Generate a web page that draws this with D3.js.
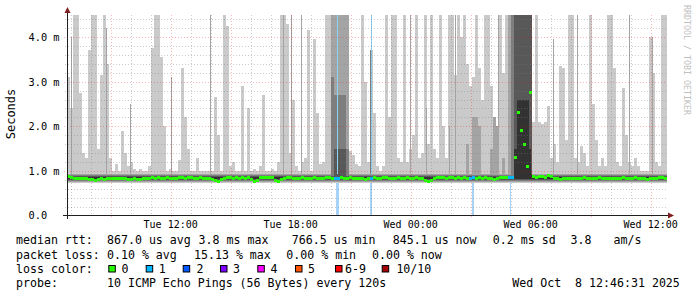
<!DOCTYPE html>
<html><head><meta charset="utf-8">
<script src="https://cdn.jsdelivr.net/npm/d3@7"></script>
<style>body{margin:0;background:#fff}svg{display:block}text{font-family:'DejaVu Sans Mono',monospace;white-space:pre}</style>
</head><body><svg id="c" width="697" height="297"></svg>
<script>
// ---------- data ----------
const startTime = new Date(2025, 9, 7, 6, 49);
const endTime = new Date(2025, 9, 8, 12, 49);
const stepMinutes = 9;
const yMax = 4.5;
const yTickValues = [0, 1, 2, 3, 4];
const yTickLabels = ["0.0", "1.0 m", "2.0 m", "3.0 m", "4.0 m"];
const xTickTimes = [new Date(2025,9,7,12,0), new Date(2025,9,7,18,0), new Date(2025,9,8,0,0), new Date(2025,9,8,6,0), new Date(2025,9,8,12,0)];
const xTickLabels = ["Tue 12:00", "Tue 18:00", "Wed 00:00", "Wed 06:00", "Wed 12:00"];

// max ping (p10) per 9-minute column, ms
const pingMax = [
3.1,2.4,4.5,4.5,2.75,1.4,1.3,3.7,4.5,4.5,
1.5,3.15,4.5,3.4,1.3,1.0,1.15,1.0,1.9,1.4,
1.1,1.2,1.05,1.0,1.05,1.0,1.0,1.1,3.75,4.5,
4.5,3.55,2.0,1.0,1.05,1.0,1.0,1.25,3.3,2.2,
1.5,1.0,1.0,1.3,1.0,1.0,1.0,1.0,1.0,2.65,
1.8,1.0,4.5,4.25,1.1,1.2,1.0,1.0,2.9,1.0,
2.4,1.0,1.05,1.0,1.1,2.7,1.0,1.0,1.05,1.0,
1.2,4.5,4.5,4.3,1.4,2.6,1.1,1.0,1.2,1.3,
4.15,1.0,3.95,2.3,1.15,1.2,4.5,4.5,4.5,4.5,
4.5,4.5,4.5,4.5,1.45,1.35,1.15,1.1,4.5,3.0,
1.2,3.7,2.3,1.1,1.0,1.1,4.5,2.2,4.5,4.5,
1.3,1.2,4.5,1.2,1.5,1.8,4.5,1.3,1.4,4.5,
1.6,4.5,1.5,1.3,4.5,2.0,1.3,4.5,4.5,3.15,
4.5,4.0,4.5,3.4,2.9,3.1,4.5,3.3,2.6,4.5,
4.5,2.9,2.0,1.5,4.5,3.2,4.5,1.4,4.5,4.5,
4.5,4.5,4.5,4.5,4.5,2.1,4.5,2.1,2.05,2.1,
2.45,1.3,1.6,1.2,3.35,3.3,1.7,4.5,4.5,1.3,
1.2,1.55,1.4,1.1,4.5,2.5,1.7,1.1,1.3,1.1,
4.5,4.5,3.3,1.2,1.1,2.85,1.8,1.2,1.1,1.3,
1.1,1.0,1.0,1.0,4.0,3.2,1.2,1.1,4.5,4.5
];
// median rtt per column, ms
const medianRtt = [
0.87,0.86,0.84,0.83,0.82,0.84,0.82,0.81,0.80,0.79,
0.80,0.82,0.81,0.83,0.82,0.84,0.83,0.82,0.84,0.83,
0.81,0.80,0.82,0.80,0.81,0.83,0.84,0.82,0.85,0.84,
0.86,0.84,0.83,0.85,0.84,0.83,0.84,0.86,0.85,0.84,
0.86,0.85,0.83,0.84,0.85,0.83,0.84,0.82,0.80,0.79,
0.77,0.81,0.84,0.85,0.86,0.84,0.85,0.83,0.86,0.84,
0.85,0.80,0.76,0.79,0.85,0.86,0.85,0.86,0.85,0.79,
0.77,0.80,0.84,0.85,0.86,0.84,0.82,0.83,0.85,0.84,
0.83,0.84,0.85,0.84,0.83,0.84,0.85,0.86,0.84,0.83,
0.84,0.85,0.84,0.83,0.85,0.84,0.83,0.84,0.82,0.81,
0.83,0.84,0.85,0.84,0.83,0.85,0.86,0.84,0.83,0.84,
0.85,0.83,0.84,0.85,0.84,0.83,0.85,0.84,0.83,0.79,
0.77,0.79,0.84,0.85,0.86,0.85,0.84,0.85,0.86,0.84,
0.85,0.84,0.85,0.83,0.84,0.85,0.84,0.85,0.84,0.85,
0.84,0.82,0.80,0.83,0.86,0.85,0.86,0.85,0.86,1.30,
2.30,1.90,1.60,1.10,2.76,0.87,0.86,0.88,0.87,0.86,
0.90,0.87,0.84,0.82,0.80,0.83,0.84,0.83,0.82,0.84,
0.83,0.84,0.85,0.84,0.83,0.84,0.83,0.85,0.84,0.84,
0.83,0.84,0.82,0.84,0.83,0.85,0.84,0.83,0.84,0.85,
0.83,0.84,0.82,0.81,0.83,0.84,0.83,0.85,0.86,0.84
];
// typical lower pings p1..p5 and upper pings p6..p9 (ms)
const lowerPings = [0.73, 0.76, 0.78, 0.80, 0.82];
const upperPings = [0.86, 0.88, 0.90, 0.94];
// columns where upper pings rise: [column, value]
const p9Spikes = [[88,4.5],[89,4.5],[90,4.5],[91,4.5],[92,4.5],[93,4.5],[133,1.6],[135,2.2],[136,2.2],[137,2.0],[141,1.5],[142,2.2],[143,2.0],[145,1.3],[147,4.5],[148,4.5],[149,4.5],[150,4.5],[151,4.5],[152,4.5],[153,4.5],[154,4.5]];
const p8Spikes = [[88,3.1],[89,2.7],[90,2.7],[91,2.7],[92,2.7],[93,1.5],[148,4.5],[149,4.5],[150,4.5],[151,4.5],[152,4.5],[153,4.5],[154,4.5]];
const p7Spikes = [[89,1.5],[90,1.5],[91,1.5],[92,1.5],[149,4.5],[150,4.5],[151,4.5],[152,4.5],[153,4.5],[154,4.5]];
const p6Spikes = [[149,1.5],[150,2.6],[151,2.6],[152,2.6],[153,2.6],[154,1.5]];
// short single-sample spikes: minutes after start, top (ms), ping rank
const thinMinutes = [12,117,189,312,429,648,672,702,909,1029,1077,1146,1164,1293,1392,1458,1530,1686,1755];
const thinTops =    [4.0,4.2,2.5,3.1,4.5,4.5,4.5,4.5,3.7,4.5,2.4,2.0,4.5,4.5,4.5,3.95,4.5,4.5,4.0];
const thinRank =    [9,9,9,9,9,9,9,9,8,9,9,9,9,9,7,9,9,9,9];
// loss events: minutes after start, duration (min), lost pings, seen above median
const lossMinutes = [807, 910, 1214, 1330];
const lossDuration = [9, 5, 6, 3];
const lossPings = [1, 1, 1, 1];
const lossAbove = [1, 1, 0, 0];
const lossLegend = ["0","1","2","3","4","5","6-9","10/10"];
const lossColors = ["#26ff00","#00b8ff","#0059ff","#7e00ff","#ff00ff","#ff5500","#ff0000","#a10000"];
const smokeColors = ["#cacaca","#a4a4a4","#7e7e7e","#585858","#323232"];

// ---------- drawing ----------
const svg = d3.select("#c");
const x = d3.scaleTime().domain([startTime, endTime]).range([67, 667]);
const y = d3.scaleLinear().domain([0, yMax]).range([215.5, 14.8]).clamp(true);
const colT = i => d3.timeMinute.offset(startTime, i * stepMinutes);
const minT = m => d3.timeMinute.offset(startTime, m);

function dense(base, spikes) {
  const a = pingMax.map(() => base);
  spikes.forEach(([i, v]) => a[i] = v);
  return a;
}
const upper = [dense(upperPings[0], p6Spikes), dense(upperPings[1], p7Spikes), dense(upperPings[2], p8Spikes), dense(upperPings[3], p9Spikes), pingMax];

const cols = pingMax.map((v, i) => ({ i, t0: colT(i), t1: colT(i + 1) }));

// smoke layers
smokeColors.forEach((c, k) => {
  svg.append("g").selectAll("rect").data(cols).join("rect")
    .attr("x", d => x(d.t0)).attr("width", d => x(d.t1) - x(d.t0))
    .attr("y", d => y(upper[4 - k][d.i]))
    .attr("height", d => Math.max(0, y(lowerPings[k]) - y(upper[4 - k][d.i])))
    .attr("fill", c).attr("shape-rendering", "crispEdges");
});

// thin single-sample spikes
const thinIdx = thinMinutes.map((m, j) => j);
svg.append("g").selectAll("rect").data(thinIdx).join("rect")
  .attr("x", j => Math.round(x(minT(thinMinutes[j])))).attr("width", 1)
  .attr("y", j => y(thinTops[j]))
  .attr("height", j => y(upperPings[3]) - y(thinTops[j]))
  .attr("fill", j => smokeColors[10 - thinRank[j]])
  .attr("shape-rendering", "crispEdges");

// loss bars
const lossIdx = lossMinutes.map((m, j) => j);
svg.append("g").selectAll("rect").data(lossIdx).join("rect")
  .attr("x", j => x(minT(lossMinutes[j]))).attr("width", j => Math.max(1, x(minT(lossMinutes[j] + lossDuration[j])) - x(minT(lossMinutes[j]))))
  .attr("y", y(lowerPings[0])).attr("height", y(0) - y(lowerPings[0]))
  .attr("fill", "#a6d3f7").attr("shape-rendering", "crispEdges");
svg.append("g").selectAll("rect").data(lossIdx.filter(j => lossAbove[j])).join("rect")
  .attr("x", j => Math.round(x(minT(lossMinutes[j] + lossDuration[j] / 2)))).attr("width", 1)
  .attr("y", y(yMax)).attr("height", y(upperPings[3]) - y(yMax))
  .attr("fill", "#86d4f6").attr("shape-rendering", "crispEdges");

// median line coloured by loss
function lossAt(i) {
  const t0 = +colT(i), t1 = +colT(i + 1);
  for (let j = 0; j < lossMinutes.length; j++) {
    const a = +minT(lossMinutes[j]), b = +minT(lossMinutes[j] + lossDuration[j]);
    if (a < t1 && b > t0) return lossPings[j];
  }
  return 0;
}
svg.append("g").selectAll("rect").data(cols).join("rect")
  .attr("x", d => x(d.t0)).attr("width", d => x(d.t1) - x(d.t0))
  .attr("y", d => y(medianRtt[d.i]) - 1.5).attr("height", 3)
  .attr("fill", d => lossColors[lossAt(d.i)]).attr("shape-rendering", "crispEdges");

// grid
const grid = svg.append("g").attr("shape-rendering", "crispEdges");
const hours = d3.timeHour.range(d3.timeHour.ceil(startTime), endTime);
hours.forEach(h => {
  const major = h.getHours() % 3 === 0;
  grid.append("line").attr("x1", Math.round(x(h)) + 0.5).attr("x2", Math.round(x(h)) + 0.5).attr("y1", 14.8).attr("y2", major ? 219 : 215.5)
    .attr("stroke", major ? "#ff0000" : "#808080").attr("stroke-opacity", major ? 0.28 : 0.4)
    .attr("stroke-dasharray", "1,2");
});
d3.range(1, 23).map(k => k * 0.2).forEach(v => {
  const major = Math.abs(v - Math.round(v)) < 1e-6;
  grid.append("line").attr("x1", major ? 64 : 65).attr("x2", 667).attr("y1", Math.round(y(v)) + 0.5).attr("y2", Math.round(y(v)) + 0.5)
    .attr("stroke", major ? "#ff0000" : "#808080").attr("stroke-opacity", major ? 0.28 : 0.4)
    .attr("stroke-dasharray", "1,2");
});

// axes
const ax = svg.append("g");
ax.append("line").attr("x1", 67.5).attr("x2", 67.5).attr("y1", 12).attr("y2", 219).attr("stroke", "#1f1f1f");
ax.append("line").attr("x1", 63).attr("x2", 670).attr("y1", 215.5).attr("y2", 215.5).attr("stroke", "#1f1f1f");
ax.append("path").attr("d", "M64.5,13 L67.5,7 L70.5,13 Z").attr("fill", "#7f1f1f");
ax.append("path").attr("d", "M668,212.5 L674,215.5 L668,218.5 Z").attr("fill", "#7f1f1f");

// y labels
svg.append("g").selectAll("text").data(yTickValues).join("text")
  .attr("x", 28.5).attr("y", v => y(v) + 3.8).attr("font-size", "10.3px").attr("fill", "#000")
  .text((v, i) => yTickLabels[i]);
// x labels
svg.append("g").selectAll("text").data(xTickTimes).join("text")
  .attr("x", t => x(t)).attr("y", 228).attr("text-anchor", "middle").attr("font-size", "10px").attr("fill", "#000")
  .text((t, i) => xTickLabels[i]);

svg.append("text").attr("transform", "translate(14.5,114) rotate(-90)").attr("text-anchor", "middle")
  .attr("font-size", "12px").attr("font-family", "DejaVu Sans").text("Seconds");
svg.append("text").attr("transform", "translate(684,5) rotate(90)").attr("font-size", "8.3px")
  .attr("fill", "#c0c0c0").text("RRDTOOL / TOBI OETIKER");

// legend
const legendRows = [
  [244.3, [["median rtt:",16],["867.0 us avg",107],["3.8 ms max",198.6],["766.5 us min",291.8],["845.1 us now",392.8],["0.2 ms sd",492.8],["3.8",570.5],["am/s",613.5]]],
  [258.6, [["packet loss:",16],["0.10 % avg",107],["15.13 % max",194],["0.00 % min",286.3],["0.00 % now",372]]],
  [272.8, [["loss color:",16]]],
  [287, [["probe:",16],["10 ICMP Echo Pings (56 Bytes) every 120s",107],["Wed Oct  8 12:46:31 2025",512.3]]]
];
const lg = svg.append("g").attr("font-size", "11.6px");
legendRows.forEach(([by, items]) => items.forEach(([t, lx]) =>
  lg.append("text").attr("x", lx).attr("y", by).attr("xml:space", "preserve").text(t)));
const boxX = [108.3, 145.7, 182.7, 220, 257.3, 295, 335, 381.7];
const boxLabelX = [121.5, 158.7, 196.4, 233, 270.4, 308, 345, 396.4];
lossLegend.forEach((l, i) => {
  lg.append("rect").attr("x", boxX[i] + 0.5).attr("y", 265.5).attr("width", 6.5).attr("height", 6.5)
    .attr("fill", lossColors[i]).attr("stroke", "#000").attr("stroke-width", 1);
  lg.append("text").attr("x", boxLabelX[i]).attr("y", 272.8).text(l);
});
</script></body></html>
